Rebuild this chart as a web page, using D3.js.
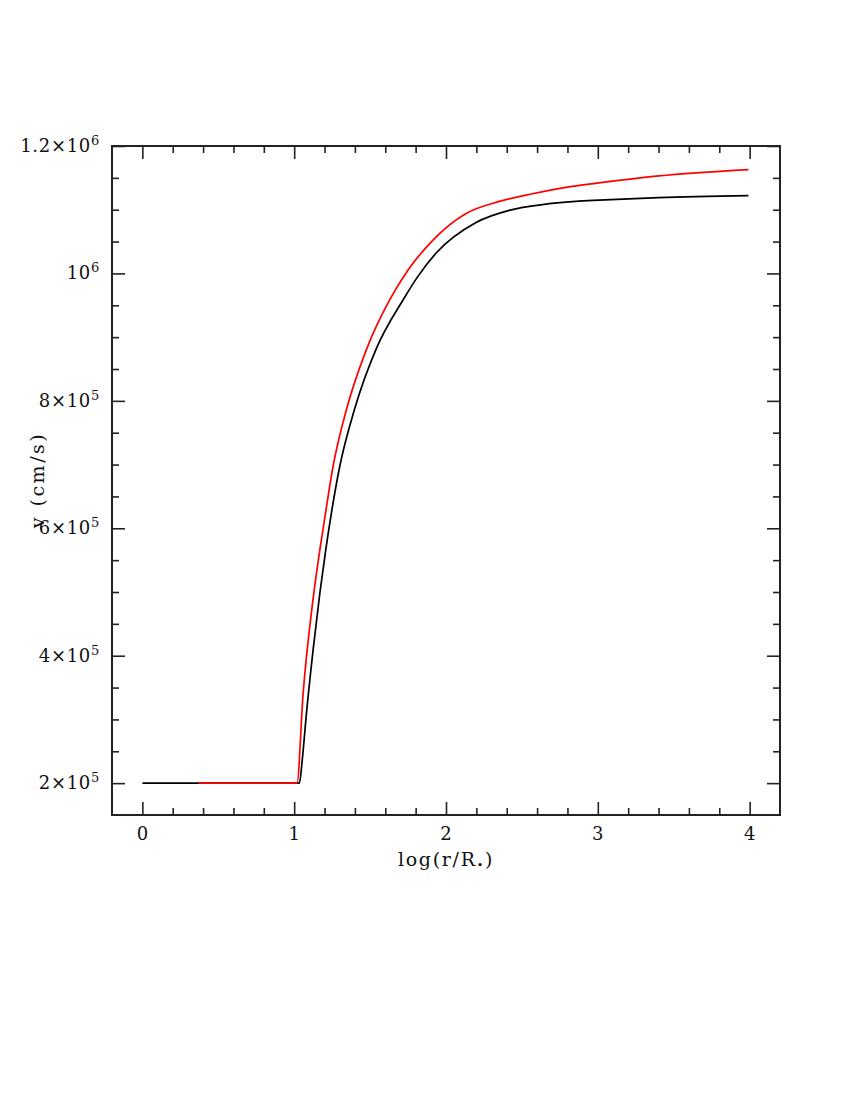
<!DOCTYPE html>
<html>
<head>
<meta charset="utf-8">
<script src="https://cdn.jsdelivr.net/npm/d3@7"></script>
<style>
  body { margin: 0; background: #fff; }
  text { font-family: "DejaVu Serif", serif; fill: #111; }
</style>
</head>
<body>
<svg width="850" height="1100"></svg>
<script>
// data
let xMajor = [0, 1, 2, 3, 4];
let yMajor = [2e5, 4e5, 6e5, 8e5, 1e6, 1.2e6];
let yLabels = [["2", "5"], ["4", "5"], ["6", "5"], ["8", "5"], ["", "6"], ["1.2", "6"]];

let blackX = [0, 1.034, 1.053, 1.081, 1.125, 1.169, 1.208, 1.300, 1.399, 1.541, 1.716, 1.814, 1.935, 2.198, 2.416, 2.635, 2.854, 3.007, 3.401, 3.992];
let blackV = [2e5, 2e5, 2.36e5, 3.10e5, 4.10e5, 4.98e5, 5.66e5, 6.97e5, 7.88e5, 8.82e5, 9.58e5, 9.95e5, 1.032e6, 1.080e6, 1.099e6, 1.108e6, 1.113e6, 1.115e6, 1.119e6, 1.122e6];

let redX = [0.37, 1.018, 1.059, 1.125, 1.169, 1.202, 1.256, 1.344, 1.475, 1.628, 1.749, 1.913, 2.132, 2.351, 2.569, 2.789, 3.007, 3.401, 3.992];
let redV = [2e5, 2e5, 3.41e5, 4.90e5, 5.66e5, 6.17e5, 6.97e5, 7.86e5, 8.80e5, 9.58e5, 1.005e6, 1.052e6, 1.094e6, 1.113e6, 1.125e6, 1.135e6, 1.142e6, 1.153e6, 1.163e6];

let svg = d3.select("svg");
let pLeft = 112, pRight = 780, pTop = 146, pBottom = 815;

let x = d3.scaleLinear().domain([-0.2, 4.2]).range([pLeft, pRight]);
let y = d3.scaleLinear().domain([1.5e5, 1.2e6]).range([pBottom, pTop]);

let xMinor = d3.range(0, 4.01, 0.2).filter(v => Math.abs(v - Math.round(v)) > 1e-6);
let yMinor = d3.range(2.5e5, 1.2e6, 5e4).filter(v => Math.round(v) % 2e5 != 0);

//###############################################
// axes (ticks point inward, on all four sides)
//###############################################
let axisStyle = g => {
  g.select(".domain").remove();
  g.selectAll("line").attr("stroke", "#222").attr("stroke-width", 1.6);
  g.selectAll("text").remove();
};

let addAxis = (fn, scale, pos, vals, size) => {
  let a = fn(scale).tickValues(vals).tickSize(size).tickSizeOuter(0);
  svg.append("g").attr("transform", pos).call(a).call(axisStyle);
};

addAxis(d3.axisBottom, x, `translate(0,${pBottom})`, xMajor, -13);
addAxis(d3.axisBottom, x, `translate(0,${pBottom})`, xMinor, -7);
addAxis(d3.axisTop, x, `translate(0,${pTop})`, xMajor, -13);
addAxis(d3.axisTop, x, `translate(0,${pTop})`, xMinor, -7);
addAxis(d3.axisLeft, y, `translate(${pLeft},0)`, yMajor, -13);
addAxis(d3.axisLeft, y, `translate(${pLeft},0)`, yMinor, -7);
addAxis(d3.axisRight, y, `translate(${pRight},0)`, yMajor, -13);
addAxis(d3.axisRight, y, `translate(${pRight},0)`, yMinor, -7);

svg.append("rect")
  .attr("x", pLeft).attr("y", pTop)
  .attr("width", pRight - pLeft).attr("height", pBottom - pTop)
  .attr("fill", "none").attr("stroke", "#222").attr("stroke-width", 2);

// tick labels
svg.append("g").selectAll("text")
  .data(xMajor)
  .enter().append("text")
    .attr("x", d => x(d))
    .attr("y", pBottom + 25)
    .attr("text-anchor", "middle")
    .style("font-size", "18px")
    .text(d => d);

let yl = svg.append("g").selectAll("text")
  .data(yMajor)
  .enter().append("text")
    .attr("x", pLeft - 12)
    .attr("y", d => y(d) + 6)
    .attr("text-anchor", "end")
    .style("font-size", "18px")
    .style("letter-spacing", "0.7px");

yl.append("tspan").text((d, i) => yLabels[i][0] ? yLabels[i][0] + "\u00d710" : "10");
yl.append("tspan")
  .attr("dy", -7)
  .style("font-size", "13px")
  .text((d, i) => yLabels[i][1]);

// axis titles
let xt = svg.append("text")
  .attr("x", x(2))
  .attr("y", pBottom + 51)
  .attr("text-anchor", "middle")
  .style("font-size", "19px")
  .style("letter-spacing", "1.7px");
xt.append("tspan").text("log(r/R");
xt.append("tspan").attr("dy", 3).style("font-size", "11px").text("\u2022");
xt.append("tspan").attr("dy", -3).text(")");

svg.append("text")
  .attr("transform", `translate(44,480) rotate(-90)`)
  .attr("text-anchor", "middle")
  .style("font-size", "19px")
  .style("letter-spacing", "2.5px")
  .text("v (cm/s)");

//###############################################
// curves
//###############################################
let line = d3.line()
  .x(d => x(d[0]))
  .y(d => y(d[1]))
  .curve(d3.curveMonotoneX);

svg.append("path")
  .datum(d3.zip(blackX, blackV))
  .attr("d", line)
  .attr("fill", "none")
  .attr("stroke", "#000")
  .attr("stroke-width", 1.7);

svg.append("path")
  .datum(d3.zip(redX, redV))
  .attr("d", line)
  .attr("fill", "none")
  .attr("stroke", "#ff0000")
  .attr("stroke-width", 1.7);
</script>
</body>
</html>
